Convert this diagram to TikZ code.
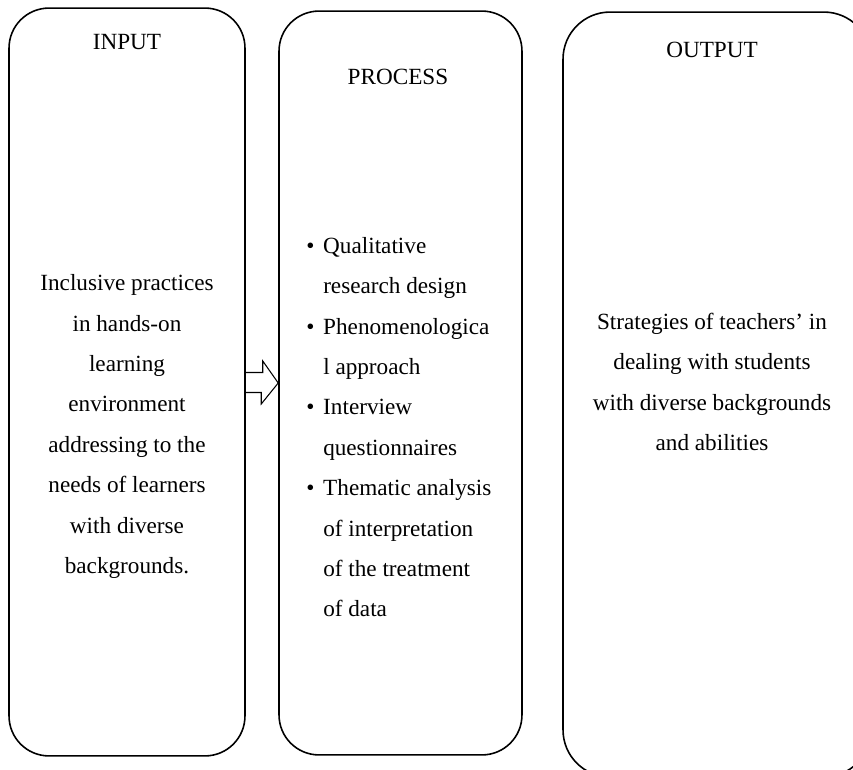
\documentclass[tikz,border=0pt]{standalone}
\usepackage{fontspec}
\setmainfont{Liberation Serif}

\tikzset{
    stagebox/.style={draw, line width=0.9pt, rounded corners=0.8cm, inner sep=0pt},
    heading/.style={font=\fontsize{13.2}{23}\selectfont},
    bodytext/.style={font=\fontsize{13.2}{23}\selectfont, align=center},
    blockarrow/.style={line width=0.6pt, line join=miter}
}

\begin{document}
\begin{tikzpicture}[x=0.02cm, y=0.02cm]

            \useasboundingbox (0,0) rectangle (853,769);
            \clip (0,0) rectangle (853,769);

            % the three stages
            \node[stagebox, minimum width=4.72cm, minimum height=14.96cm] (inbox) at (127,387) {};
            \node[stagebox, minimum width=4.86cm, minimum height=14.88cm] (procbox) at (400.5,386) {};
            \node[stagebox, rounded corners=0.94cm, minimum width=6.16cm, minimum height=15.3cm] (outbox) at (717,374.5) {};

            \node[heading] (intitle) at (127,727) {INPUT};
            \node[heading] (proctitle) at (398,692) {PROCESS};
            \node[heading] (outtitle) at (712,719) {OUTPUT};

            \node[bodytext] (intext) at (127,342.5) {Inclusive practices\\ in hands-on\\ learning\\ environment\\
                addressing to the\\ needs of learners\\ with diverse\\ backgrounds.};

            \node[heading, anchor=west, inner sep=0pt] (proctext) at (306,342) {%
                \begin{tabular}{@{}c@{\hspace{5pt}}l@{}}
                    \textbullet & Qualitative\\
                                & research design\\
                    \textbullet & Phenomenologica\\
                                & l approach\\
                    \textbullet & Interview\\
                                & questionnaires\\
                    \textbullet & Thematic analysis\\
                                & of interpretation\\
                                & of the treatment\\
                                & of data
                \end{tabular}};

            \node[bodytext] (outtext) at (712,387) {Strategies of teachers' in\\ dealing with students\\
                with diverse backgrounds\\ and abilities};

            % hollow arrow from input to process
            \draw[blockarrow] (inbox.east) ++(0,9.5) -- ++(17,0) -- ++(0,11.5) -- (procbox.west)
                -- ++(-17,-21) -- ++(0,11.5) -- ++(-17,0);

\end{tikzpicture}
\end{document}
